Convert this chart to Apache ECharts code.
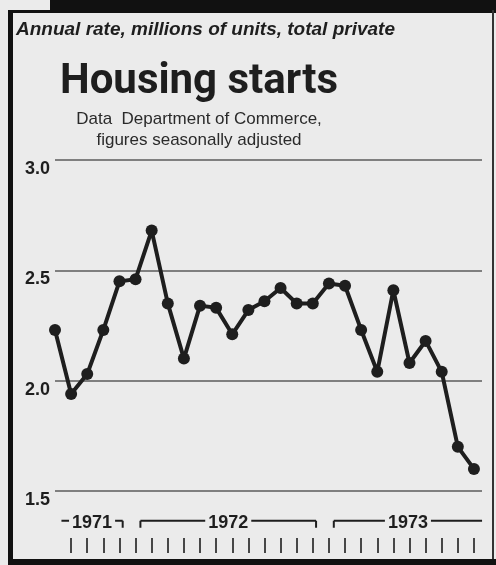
<!DOCTYPE html>
<html>
<head>
<meta charset="utf-8">
<title>Housing starts</title>
<script src="https://cdn.jsdelivr.net/npm/echarts@6/dist/echarts.min.js"></script>
<style>
    html, body { margin: 0; padding: 0; background: #ebebeb; }
    #chart { width: 496px; height: 565px; }
</style>
</head>
<body>
<div id="chart"></div>
<script>
// monthly, Aug 1971 - Oct 1973, millions of units (annual rate)
let months = ['Aug', 'Sep', 'Oct', 'Nov', 'Dec',
    'Jan', 'Feb', 'Mar', 'Apr', 'May', 'Jun', 'Jul', 'Aug', 'Sep', 'Oct', 'Nov', 'Dec',
    'Jan', 'Feb', 'Mar', 'Apr', 'May', 'Jun', 'Jul', 'Aug', 'Sep', 'Oct'];
let starts = [2.23, 1.94, 2.03, 2.23, 2.45,
    2.46, 2.68, 2.35, 2.10, 2.34, 2.33, 2.21, 2.32, 2.36, 2.42, 2.35, 2.35,
    2.44, 2.43, 2.23, 2.04, 2.41, 2.08, 2.18, 2.04, 1.70, 1.60];
let yTicks = [1.5, 2.0, 2.5, 3.0];
let years = ['1971', '1972', '1973'];
let yearFirst = [0, 5, 17];
let yearLast = [4, 16, 26];

let ink = '#1e1e1e';
let paper = '#ebebeb';

let chartElem = document.getElementById('chart');
let chart = echarts.init(chartElem);

chart.setOption({
    backgroundColor: paper,
    animation: false,
    title: [{
        text: 'Annual rate, millions of units, total private',
        left: 16,
        top: 20,
        padding: 0,
        textStyle: {
            fontFamily: 'Liberation Sans',
            fontSize: 19,
            fontStyle: 'italic',
            fontWeight: 'bold',
            color: ink
        }
    }, {
        text: 'Housing starts',
        left: 60,
        top: 61,
        padding: 0,
        textStyle: {
            fontFamily: 'Roboto',
            fontSize: 42,
            fontWeight: 'bold',
            color: ink
        }
    }, {
        text: 'Data  Department of Commerce,',
        subtext: 'figures seasonally adjusted',
        left: 199,
        top: 111,
        padding: 0,
        itemGap: 4,
        textAlign: 'center',
        textStyle: {
            fontFamily: 'Liberation Sans',
            fontSize: 17,
            fontWeight: 'normal',
            color: '#2a2a2a'
        },
        subtextStyle: {
            fontFamily: 'Liberation Sans',
            fontSize: 17,
            color: '#2a2a2a'
        }
    }],
    grid: [{
        left: 55,
        right: 14,
        top: 160,
        bottom: 74
    }, {
        left: 55,
        right: 22,
        top: 510,
        height: 43
    }],
    xAxis: [{
        type: 'value',
        gridIndex: 0,
        min: 0,
        max: 26.5,
        show: false
    }, {
        type: 'category',
        gridIndex: 1,
        data: months,
        boundaryGap: false,
        position: 'bottom',
        axisLine: { show: false },
        axisLabel: { show: false },
        axisTick: {
            show: true,
            inside: true,
            length: 15,
            interval: function(index) {
                return index > 0;
            },
            lineStyle: { color: ink, width: 1.6 }
        }
    }, {
        type: 'value',
        gridIndex: 1,
        min: 0,
        max: months.length - 1,
        position: 'top',
        show: false
    }],
    yAxis: [{
        type: 'value',
        gridIndex: 0,
        min: yTicks[0],
        max: yTicks[yTicks.length - 1],
        interval: 0.5,
        axisLine: { show: false },
        axisTick: { show: false },
        axisLabel: {
            margin: 5,
            verticalAlign: 'top',
            fontFamily: 'Liberation Sans',
            fontSize: 18,
            fontWeight: 'bold',
            color: ink,
            formatter: function(v) {
                return v.toFixed(1);
            }
        },
        splitLine: {
            show: true,
            lineStyle: { color: '#7f7f7f', width: 2 }
        }
    }, {
        type: 'value',
        gridIndex: 1,
        min: 0,
        max: 1,
        show: false
    }],
    series: [{
        name: 'Housing starts',
        type: 'line',
        xAxisIndex: 0,
        yAxisIndex: 0,
        data: starts.map(function(v, i) { return [i, v]; }),
        symbol: 'circle',
        symbolSize: 12,
        clip: false,
        color: ink,
        lineStyle: { color: ink, width: 4 },
        itemStyle: { color: ink }
    }, {
        name: 'Years',
        type: 'custom',
        xAxisIndex: 2,
        yAxisIndex: 1,
        data: years.map(function(y, i) { return [yearFirst[i], yearLast[i], i]; }),
        renderItem: function(params, api) {
            let i = api.value(2);
            let first = i === 0;
            let last = i === years.length - 1;
            let a = api.coord([api.value(0) + (first ? 0.4 : 0.3), 0.75]);
            let b = api.coord([api.value(1) + (last ? 0.5 : 0.2), 0.75]);
            let stroke = { stroke: ink, lineWidth: 2 };
            let children = [{
                type: 'line',
                shape: { x1: a[0], y1: a[1], x2: b[0], y2: b[1] },
                style: stroke
            }];
            if (!first) {
                children.push({
                    type: 'line',
                    shape: { x1: a[0], y1: a[1], x2: a[0], y2: a[1] + 7 },
                    style: stroke
                });
            }
            if (!last) {
                children.push({
                    type: 'line',
                    shape: { x1: b[0], y1: b[1], x2: b[0], y2: b[1] + 7 },
                    style: stroke
                });
            }
            children.push({
                type: 'text',
                x: (a[0] + b[0]) / 2,
                y: a[1] + 2,
                style: {
                    text: years[i],
                    align: 'center',
                    verticalAlign: 'middle',
                    font: 'bold 18px "Liberation Sans"',
                    fill: ink,
                    backgroundColor: paper,
                    padding: [0, 3]
                }
            });
            return { type: 'group', children: children };
        }
    }],
    graphic: [
        // newspaper frame
        { type: 'rect', shape: { x: 50, y: 0, width: 446, height: 12 }, style: { fill: '#111' } },
        { type: 'rect', shape: { x: 8, y: 10, width: 488, height: 3 }, style: { fill: '#111' } },
        { type: 'rect', shape: { x: 8, y: 10, width: 5, height: 555 }, style: { fill: '#111' } },
        { type: 'rect', shape: { x: 492, y: 10, width: 2, height: 555 }, style: { fill: '#333' } },
        { type: 'rect', shape: { x: 8, y: 559, width: 488, height: 6 }, style: { fill: '#111' } }
    ]
});

window.addEventListener('resize', function() {
    setTimeout(() => {
        chart.resize();
    }, 500);
});
</script>
</body>
</html>
